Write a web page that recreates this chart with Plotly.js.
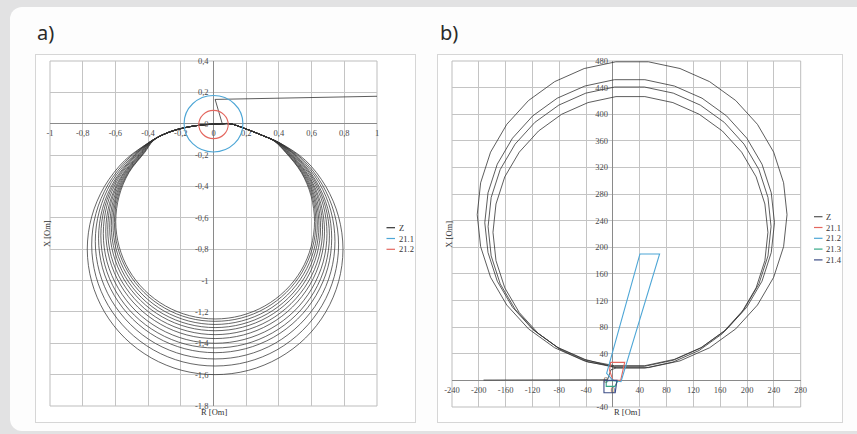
<!DOCTYPE html>
<html>
<head>
<meta charset="utf-8">
<script src="https://cdn.plot.ly/plotly-3.0.1.min.js"></script>
<style>
  html, body { margin:0; padding:0; width:857px; height:434px; overflow:hidden; background:#e2e2e3; }
  #card { position:absolute; left:10px; top:7px; width:900px; height:424px; background:#fdfdfd; border-radius:12px; }
  .box { position:absolute; background:#ffffff; border:1px solid #d6d6d6; box-sizing:border-box; }
  #plot { position:absolute; left:0; top:0; width:857px; height:434px; }
</style>
</head>
<body>
<div id="card"></div>
<div class="box" style="left:35px; top:54px; width:381px; height:369px;"></div>
<div class="box" style="left:437px; top:54px; width:406px; height:369px;"></div>
<div id="plot"></div>
<script>
// ---------------- Panel a data ----------------
const xTicksA = [-1, -0.8, -0.6, -0.4, -0.2, 0, 0.2, 0.4, 0.6, 0.8, 1];
const xTickTextA = ['-1', '-0,8', '-0,6', '-0,4', '-0,2', '0', '0,2', '0,4', '0,6', '0,8', '1'];
const yTicksA = [-1.8, -1.6, -1.4, -1.2, -1, -0.8, -0.6, -0.4, -0.2, 0, 0.2, 0.4];
const yTickTextA = ['-1,8', '-1,6', '-1,4', '-1,2', '-1', '-0,8', '-0,6', '-0,4', '-0,2', '0', '0,2', '0,4'];

const zStartX = [1.0, 0.01, 0.055, 0.10];
const zStartY = [0.175, 0.155, -0.005, 0.0];
const zTopRX = [0.10, 0.19, 0.30];
const zTopRY = [0.0, -0.03, -0.075];
const zTopLX = [-0.13, -0.05, 0.02];
const zTopLY = [-0.016, -0.006, -0.002];

const zLoop01X = [.370,.440,.537,.597,.618,.597,.537,.440,.314,.167,.010,-.147,-.294,-.420,-.517,-.577,-.598,-.577,-.517,-.420,-.370,-.300,-.220];
const zLoop01Y = [-.110,-.182,-.311,-.461,-.623,-.784,-.934,-1.063,-1.162,-1.224,-1.245,-1.224,-1.162,-1.063,-.934,-.784,-.623,-.461,-.311,-.182,-.110,-.065,-.035];
const zLoop02X = [.373,.446,.543,.605,.626,.605,.543,.446,.318,.170,.010,-.150,-.298,-.426,-.523,-.585,-.606,-.585,-.523,-.426,-.373,-.303,-.221];
const zLoop02Y = [-.111,-.185,-.315,-.467,-.630,-.793,-.945,-1.075,-1.176,-1.239,-1.260,-1.239,-1.176,-1.075,-.945,-.793,-.630,-.467,-.315,-.185,-.112,-.066,-.036];
const zLoop03X = [.377,.452,.551,.614,.635,.614,.551,.452,.323,.172,.010,-.152,-.303,-.432,-.531,-.594,-.615,-.594,-.531,-.432,-.377,-.305,-.222];
const zLoop03Y = [-.113,-.188,-.320,-.474,-.640,-.806,-.960,-1.092,-1.194,-1.258,-1.280,-1.258,-1.194,-1.092,-.960,-.806,-.640,-.474,-.320,-.188,-.113,-.068,-.036];
const zLoop04X = [.380,.459,.560,.623,.645,.623,.560,.459,.328,.174,.010,-.154,-.308,-.439,-.540,-.603,-.625,-.603,-.540,-.439,-.380,-.308,-.224];
const zLoop04Y = [-.114,-.190,-.325,-.482,-.650,-.818,-.975,-1.110,-1.213,-1.278,-1.300,-1.278,-1.213,-1.110,-.975,-.818,-.650,-.482,-.325,-.190,-.115,-.069,-.037];
const zLoop05X = [.383,.466,.569,.633,.655,.633,.569,.466,.333,.177,.010,-.157,-.313,-.446,-.549,-.613,-.635,-.613,-.549,-.446,-.383,-.310,-.225];
const zLoop05Y = [-.115,-.193,-.330,-.489,-.660,-.831,-.990,-1.127,-1.232,-1.298,-1.320,-1.298,-1.232,-1.127,-.990,-.831,-.660,-.489,-.330,-.193,-.117,-.070,-.037];
const zLoop06X = [.387,.474,.579,.645,.667,.645,.579,.474,.339,.180,.010,-.160,-.319,-.454,-.559,-.625,-.647,-.625,-.559,-.454,-.387,-.313,-.226];
const zLoop06Y = [-.116,-.197,-.336,-.498,-.673,-.847,-1.009,-1.148,-1.255,-1.322,-1.345,-1.322,-1.255,-1.148,-1.009,-.847,-.673,-.498,-.336,-.197,-.118,-.071,-.038];
const zLoop07X = [.390,.483,.589,.656,.679,.656,.589,.483,.345,.183,.010,-.163,-.325,-.463,-.569,-.636,-.659,-.636,-.569,-.463,-.390,-.315,-.228];
const zLoop07Y = [-.118,-.201,-.343,-.508,-.685,-.862,-1.028,-1.169,-1.278,-1.347,-1.370,-1.347,-1.278,-1.169,-1.028,-.862,-.685,-.508,-.343,-.201,-.120,-.073,-.039];
const zLoop08X = [.393,.494,.602,.671,.694,.671,.602,.494,.352,.187,.010,-.167,-.332,-.474,-.582,-.651,-.674,-.651,-.582,-.474,-.393,-.318,-.229];
const zLoop08Y = [-.119,-.205,-.350,-.519,-.700,-.881,-1.050,-1.195,-1.306,-1.376,-1.400,-1.376,-1.306,-1.195,-1.050,-.881,-.700,-.519,-.350,-.205,-.122,-.074,-.039];
const zLoop09X = [.397,.504,.615,.685,.709,.685,.615,.504,.360,.191,.010,-.171,-.340,-.484,-.595,-.665,-.689,-.665,-.595,-.484,-.397,-.320,-.230];
const zLoop09Y = [-.120,-.209,-.358,-.530,-.715,-.900,-1.073,-1.221,-1.334,-1.406,-1.430,-1.406,-1.334,-1.221,-1.073,-.900,-.715,-.530,-.358,-.209,-.123,-.075,-.040];
const zLoop10X = [.400,.514,.627,.699,.723,.699,.627,.514,.367,.195,.010,-.175,-.347,-.494,-.607,-.679,-.703,-.679,-.607,-.494,-.400,-.323,-.231];
const zLoop10Y = [-.121,-.214,-.365,-.541,-.730,-.919,-1.095,-1.246,-1.362,-1.435,-1.460,-1.435,-1.362,-1.246,-1.095,-.919,-.730,-.541,-.365,-.214,-.125,-.076,-.040];
const zLoop11X = [.403,.528,.645,.718,.743,.718,.645,.528,.377,.200,.010,-.180,-.357,-.508,-.625,-.698,-.723,-.698,-.625,-.508,-.403,-.325,-.233];
const zLoop11Y = [-.123,-.220,-.375,-.556,-.750,-.944,-1.125,-1.280,-1.400,-1.475,-1.500,-1.475,-1.400,-1.280,-1.125,-.944,-.750,-.556,-.375,-.220,-.127,-.078,-.041];
const zLoop12X = [.407,.544,.664,.739,.765,.739,.664,.544,.388,.206,.010,-.186,-.368,-.524,-.644,-.719,-.745,-.719,-.644,-.524,-.407,-.328,-.234];
const zLoop12Y = [-.124,-.226,-.386,-.572,-.773,-.973,-1.159,-1.319,-1.442,-1.519,-1.545,-1.519,-1.442,-1.319,-1.159,-.973,-.773,-.572,-.386,-.226,-.128,-.079,-.041];
const zLoop13X = [.410,.563,.687,.765,.792,.765,.687,.563,.401,.213,.010,-.193,-.381,-.543,-.667,-.745,-.772,-.745,-.667,-.543,-.410,-.330,-.235];
const zLoop13Y = [-.125,-.234,-.400,-.593,-.800,-1.007,-1.200,-1.366,-1.493,-1.573,-1.600,-1.573,-1.493,-1.366,-1.200,-1.007,-.800,-.593,-.400,-.234,-.130,-.080,-.042];

// relay mho circles (panel a): 21.1, 21.2
const relayANames = ['21.1', '21.2'];
const relayACenterX = [0.0, 0.0];
const relayACenterY = [0.0, -0.005];
const relayARadius = [0.18, 0.09];

// ---------------- Panel b data ----------------
const xTicksB = [-240,-200,-160,-120,-80,-40,0,40,80,120,160,200,240,280];
const xTickTextB = ['-240','-200','-160','-120','-80','-40','0','40','80','120','160','200','240','280'];
const yTicksB = [-40,0,40,80,120,160,200,240,280,320,360,400,440,480];
const yTickTextB = ['-40','0','40','80','120','160','200','240','280','320','360','400','440','480'];

const zbStartX = [-193, -8, -3];
const zbStartY = [0.5, 1, 16];
const zbLoop1X = [4.6,47.6,89.4,128.6,163.2,191.9,213.5,226.6,231.1,226.6,213.5,191.9,163.2,128.6,89.4,47.6,4.6,-37.2,-76.4,-111.0,-139.7,-161.3,-174.4,-178.9,-174.4,-161.3,-139.7,-111.0,-76.4,-37.2];
const zbLoop1Y = [18.5,18.5,27.5,45.0,70.2,102.0,139.1,179.9,222.5,265.1,305.9,343.0,374.8,400.0,417.5,426.5,426.5,417.5,400.0,374.8,343.0,305.9,265.1,222.5,179.9,139.1,102.0,70.2,45.0,27.5];
const zbLoop2X = [2.6,47.0,90.0,130.3,166.0,195.5,217.7,231.2,235.8,231.2,217.7,195.5,166.0,130.3,90.0,47.0,2.6,-40.4,-80.7,-116.4,-145.9,-168.1,-181.6,-186.2,-181.6,-168.1,-145.9,-116.4,-80.7,-40.4];
const zbLoop2Y = [21.1,21.1,30.3,48.3,74.2,106.9,145.1,187.1,231.0,274.9,316.9,355.1,387.8,413.7,431.7,440.9,440.9,431.7,413.7,387.8,355.1,316.9,274.9,231.0,187.1,145.1,106.9,74.2,48.3,30.3];
const zbLoop3X = [2.2,47.6,91.6,132.9,169.4,199.6,222.3,236.1,240.9,236.1,222.3,199.6,169.4,132.9,91.6,47.6,2.2,-41.8,-83.1,-119.6,-149.8,-172.5,-186.3,-191.1,-186.3,-172.5,-149.8,-119.6,-83.1,-41.8];
const zbLoop3Y = [22.1,22.1,31.6,49.9,76.5,110.0,149.1,192.1,237.0,281.9,324.9,364.0,397.5,424.1,442.4,451.9,451.9,442.4,424.1,397.5,364.0,324.9,281.9,237.0,192.1,149.1,110.0,76.5,49.9,31.6];
const zbLoop4X = [4.3,52.9,100.0,144.1,183.1,215.5,239.7,254.5,259.6,254.5,239.7,215.5,183.1,144.1,100.0,52.9,4.3,-42.8,-86.9,-125.9,-158.3,-182.5,-197.3,-202.4,-197.3,-182.5,-158.3,-125.9,-86.9,-42.8];
const zbLoop4Y = [19.2,19.2,29.3,49.0,77.4,113.2,155.0,201.0,249.0,297.0,343.0,384.8,420.6,449.0,468.7,478.8,478.8,468.7,449.0,420.6,384.8,343.0,297.0,249.0,201.0,155.0,113.2,77.4,49.0,29.3];

const relayBNames = ['21.1', '21.2', '21.3', '21.4'];
const r211X = [0, -5, -3.5, 17.5, 11.5, 0];
const r211Y = [0, 15, 27, 27, 0, 0];
const r212X = [0, -9.4, 40.3, 69.6, 12, 0];
const r212Y = [0, 10.7, 190, 190, -2, 0];
const r213X = [0, -10, -10, 3, 7, 0];
const r213Y = [0, -1, -9, -9, -1, 0];
const r214X = [0, -13.4, -13.4, 3.4, 6, 0];
const r214Y = [0, 0, -18.5, -18.5, 0, 0];

// ---------------- styles ----------------
const zColor = '#333333';
const colorsA = ['#4da6d6', '#e4675f'];
const colorsB = ['#e4675f', '#4da6d6', '#35a987', '#3d4d86'];
const legendNamesA = ['Z'].concat(relayANames);
const legendNamesB = ['Z'].concat(relayBNames);
const W = 857, H = 434;
const px = v => v / W, py = v => 1 - v / H;

// ---------------- build traces ----------------
function buildA() {
  const loops = [[zLoop01X,zLoop01Y],[zLoop02X,zLoop02Y],[zLoop03X,zLoop03Y],[zLoop04X,zLoop04Y],
    [zLoop05X,zLoop05Y],[zLoop06X,zLoop06Y],[zLoop07X,zLoop07Y],[zLoop08X,zLoop08Y],[zLoop09X,zLoop09Y],
    [zLoop10X,zLoop10Y],[zLoop11X,zLoop11Y],[zLoop12X,zLoop12Y],[zLoop13X,zLoop13Y]];
  let x = [], y = [];
  loops.forEach(([lx, ly]) => {
    x = x.concat(zTopRX, lx, zTopLX); y = y.concat(zTopRY, ly, zTopLY);
  });
  x.push(zTopRX[0]); y.push(zTopRY[0]);
  return {x, y};
}
function buildB() {
  const loops = [[zbLoop1X,zbLoop1Y],[zbLoop2X,zbLoop2Y],[zbLoop3X,zbLoop3Y],[zbLoop4X,zbLoop4Y]];
  let x = zbStartX.slice(), y = zbStartY.slice();
  loops.forEach(([lx, ly]) => { x = x.concat(lx); y = y.concat(ly); });
  x.push(zbLoop4X[0]); y.push(zbLoop4Y[0]);
  return {x, y};
}
const za = buildA(), zb = buildB();
const traces = [
  {type:'scatter', mode:'lines', x:zStartX, y:zStartY, xaxis:'x', yaxis:'y', name:'Z', showlegend:false,
   line:{color:zColor, width:0.8}, hoverinfo:'skip'},
  {type:'scatter', mode:'lines', x:za.x, y:za.y, xaxis:'x', yaxis:'y', name:'Z', showlegend:false,
   line:{color:zColor, width:0.75, shape:'spline', smoothing:1, simplify:false}, hoverinfo:'skip'},
  {type:'scatter', mode:'lines', x:zb.x, y:zb.y, xaxis:'x2', yaxis:'y2', name:'Z', showlegend:false,
   line:{color:zColor, width:0.8}, hoverinfo:'skip'}
];
[[r211X,r211Y],[r212X,r212Y],[r213X,r213Y],[r214X,r214Y]].forEach(([rx, ry], i) => {
  traces.push({type:'scatter', mode:'lines', x:rx, y:ry, xaxis:'x2', yaxis:'y2', name:relayBNames[i],
    showlegend:false, line:{color:colorsB[i], width:1.1}, hoverinfo:'skip'});
});

// ---------------- layout ----------------
const domXA = [px(50), px(377)], domYA = [py(406), py(61)];
const domXB = [px(452), px(800.7)], domYB = [py(407), py(61)];
const rangeXA = [xTicksA[0], xTicksA[xTicksA.length-1]], rangeYA = [yTicksA[0], yTicksA[yTicksA.length-1]];
const rangeXB = [xTicksB[0], xTicksB[xTicksB.length-1]], rangeYB = [yTicksB[0], yTicksB[yTicksB.length-1]];
const zeroPos = (dom, rng) => dom[0] + (0 - rng[0]) / (rng[1] - rng[0]) * (dom[1] - dom[0]);

const serif = 'Liberation Serif, Times New Roman, serif';
const tickFont = {family:serif, size:8.5, color:'#4a4a4a'};
const gridC = '#c4c4c4';
function axis(dom, rng, vals, txt, pos, standoff) {
  return {domain:dom, range:rng, autorange:false, tickvals:vals, ticktext:txt, anchor:'free', position:pos,
    showgrid:true, gridcolor:gridC, gridwidth:1, zeroline:true, zerolinecolor:'#8a8a8a', zerolinewidth:1,
    showline:false, ticks:'', ticklabelstandoff:standoff, tickfont:tickFont, fixedrange:true};
}
const shapes = [];
[['x','y'],['x2','y2']].forEach(([xa, ya]) => {
  shapes.push({type:'rect', xref:xa+' domain', yref:ya+' domain', x0:0, x1:1, y0:0, y1:1,
    line:{color:'#bdbdbd', width:1}, layer:'below'});
});
relayARadius.forEach((r, i) => {
  shapes.push({type:'circle', xref:'x', yref:'y', x0:relayACenterX[i]-r, x1:relayACenterX[i]+r,
    y0:relayACenterY[i]-r, y1:relayACenterY[i]+r, line:{color:colorsA[i], width:1.1}});
});
const annotations = [];
function legend(names, colors, x0, yTop, dy) {
  names.forEach((n, i) => {
    const yy = yTop + i * dy;
    shapes.push({type:'line', xref:'paper', yref:'paper', x0:px(x0), x1:px(x0+8.5), y0:py(yy), y1:py(yy),
      line:{color:colors[i], width:1.2}});
    annotations.push({xref:'paper', yref:'paper', x:px(x0+10), y:py(yy), xanchor:'left', yanchor:'middle',
      text:n, showarrow:false, font:{family:serif, size:8.5, color:'#333'}});
  });
}
legend(legendNamesA, [zColor].concat(colorsA), 386.5, 227.7, 10.8);
legend(legendNamesB, ['#555'].concat(colorsB), 814, 216.7, 10.8);
[[213.5, 'R [Om]'], [626.5, 'R [Om]']].forEach(([x, t]) => {
  annotations.push({xref:'paper', yref:'paper', x:px(x), y:py(412), xanchor:'center', yanchor:'middle',
    text:t, showarrow:false, font:{family:serif, size:8.5, color:'#333'}});
});
[[47, 'X [Om]'], [448.7, 'X [Om]']].forEach(([x, t]) => {
  annotations.push({xref:'paper', yref:'paper', x:px(x), y:py(234), xanchor:'center', yanchor:'middle',
    text:t, textangle:-90, showarrow:false, font:{family:serif, size:8.5, color:'#333'}});
});
[[35, 'a)'], [438, 'b)']].forEach(([x, t]) => {
  annotations.push({xref:'paper', yref:'paper', x:px(x), y:py(32), xanchor:'left', yanchor:'middle',
    text:t, showarrow:false, font:{family:'Noto Sans, Open Sans, sans-serif', size:20, color:'#2a2a2a'}});
});

const layout = {
  width:W, height:H, margin:{l:0, r:0, t:0, b:0}, showlegend:false,
  paper_bgcolor:'rgba(0,0,0,0)', plot_bgcolor:'rgba(0,0,0,0)',
  xaxis: axis(domXA, rangeXA, xTicksA, xTickTextA, zeroPos(domYA, rangeYA), 3),
  yaxis: axis(domYA, rangeYA, yTicksA, yTickTextA, zeroPos(domXA, rangeXA), 5),
  xaxis2: axis(domXB, rangeXB, xTicksB, xTickTextB, zeroPos(domYB, rangeYB), 3),
  yaxis2: axis(domYB, rangeYB, yTicksB, yTickTextB, zeroPos(domXB, rangeXB), 5),
  shapes, annotations
};
Plotly.newPlot('plot', traces, layout, {staticPlot:true, displayModeBar:false});
</script>
</body>
</html>
